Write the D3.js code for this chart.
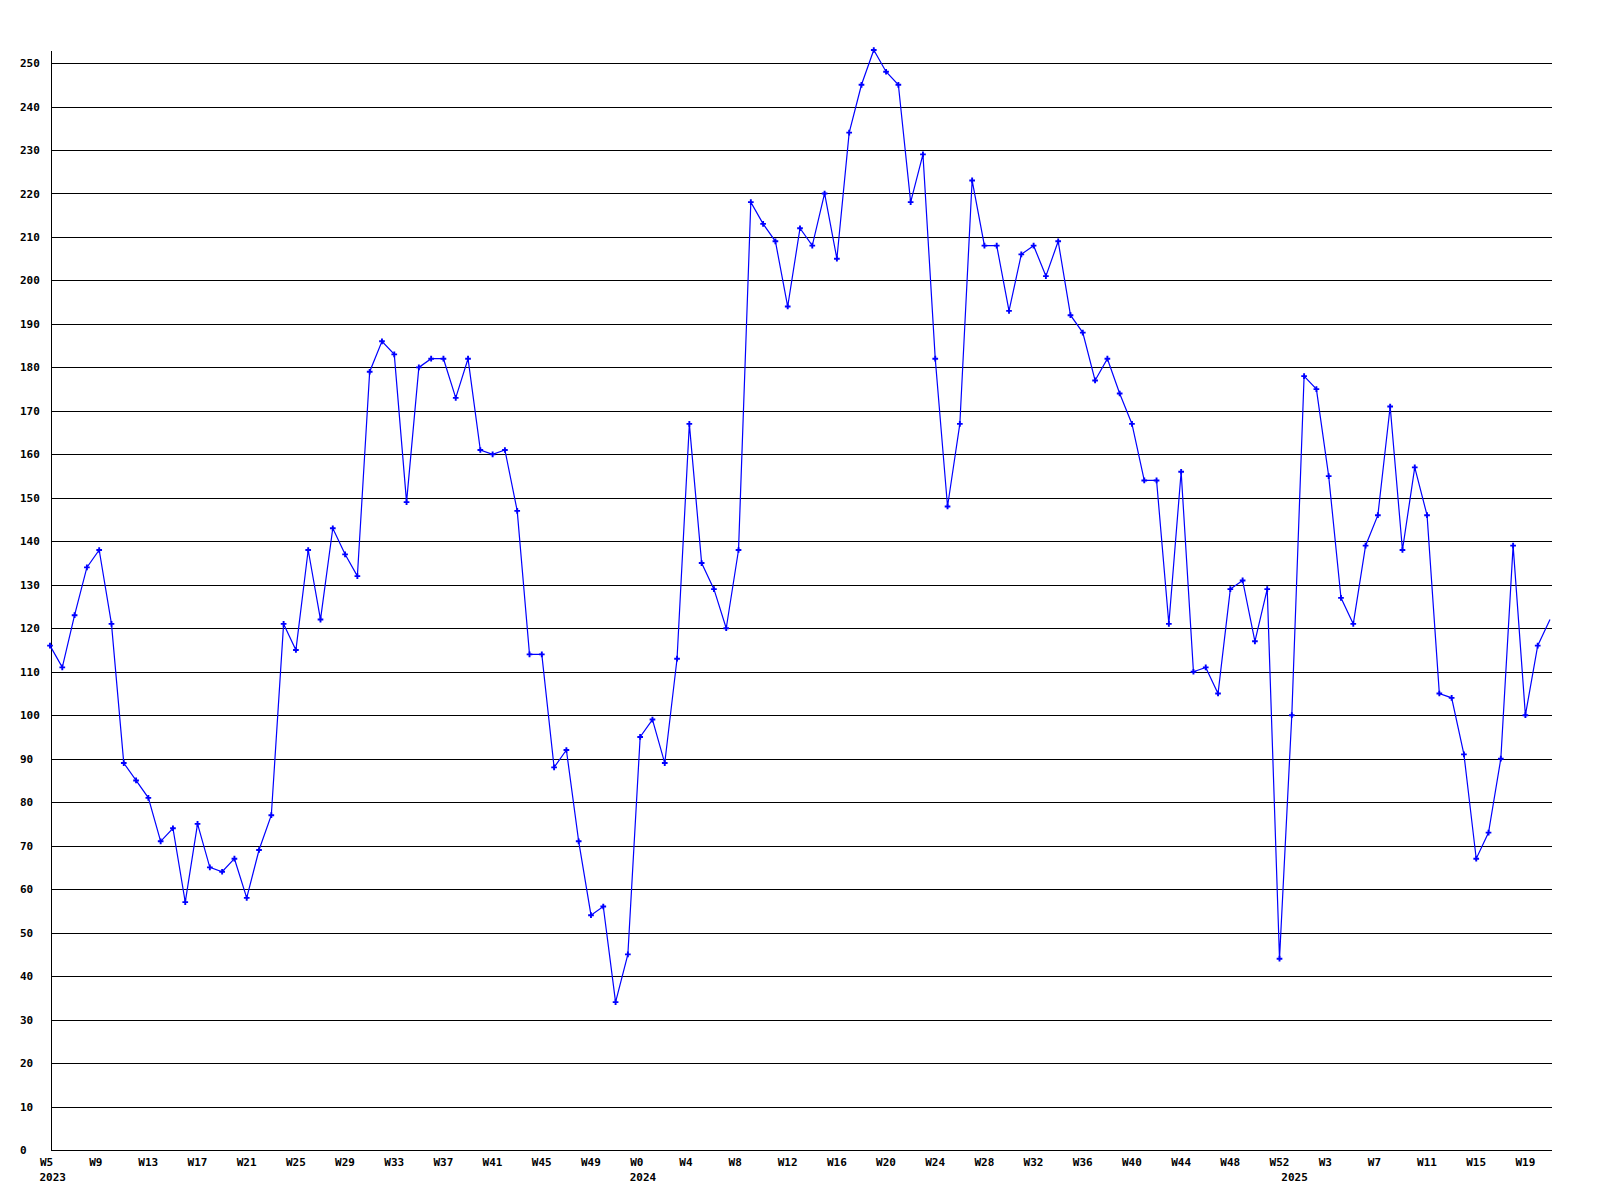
<!DOCTYPE html>
<html>
<head>
<meta charset="utf-8">
<script src="https://cdn.jsdelivr.net/npm/d3@7"></script>
<style>
  html, body { margin: 0; padding: 0; background: #fff; }
  svg { display: block; }
  text { font-family: "DejaVu Sans Mono", monospace; font-weight: bold; font-size: 11px; fill: #000; }
</style>
</head>
<body>
<svg id="chart" width="1600" height="1200"></svg>
<script>
// Weekly values, one array per year
const years = ["2023", "2024", "2025"];
const firstWeek = [5, 0, 0];
const values2023 = [116,111,123,134,138,121,89,85,81,71,74,57,75,65,64,67,58,69,77,121,115,138,122,143,137,132,179,186,183,149,180,182,182,173,182,161,160,161,147,114,114,88,92,71,54,56,34,45];
const values2024 = [95,99,89,113,167,135,129,120,138,218,213,209,194,212,208,220,205,234,245,253,248,245,218,229,182,148,167,223,208,208,193,206,208,201,209,192,188,177,182,174,167,154,154,121,156,110,111,105,129,131,117,129,44];
const values2025 = [100,178,175,155,127,121,139,146,171,138,157,146,105,104,91,67,73,90,139,100,116,122];
const yTicks = [0,10,20,30,40,50,60,70,80,90,100,110,120,130,140,150,160,170,180,190,200,210,220,230,240,250];
const labelEvery = 4;

(function () {
  // Build flat point list
  const series = [values2023, values2024, values2025];
  const points = [];
  series.forEach((vals, yi) => {
    vals.forEach((v, i) => {
      points.push({ i: points.length, year: years[yi], week: firstWeek[yi] + i, first: i === 0, value: v });
    });
  });

  const mLeft = 50, mRight = 1550, mTop = 50, mBottom = 1150;
  const svg = d3.select("#chart");
  svg.append("rect").attr("width", 1600).attr("height", 1200).attr("fill", "#fff");

  const x = d3.scaleLinear().domain([0, points.length - 1]).range([mLeft, mRight]);
  const y = d3.scaleLinear().domain([0, d3.max(points, d => d.value)]).range([mBottom, mTop]);

  // Y axis with gridlines
  const yAxis = d3.axisLeft(y).tickValues(yTicks).tickFormat(d3.format("d"))
    .tickSize(-(mRight + 1 - mLeft)).tickSizeOuter(0);
  const gy = svg.append("g").attr("transform", `translate(${mLeft + 0.5},0)`).call(yAxis);
  gy.select(".domain").attr("stroke", "#000").attr("shape-rendering", "crispEdges");
  gy.selectAll(".tick line").attr("stroke", "#000").attr("shape-rendering", "crispEdges");
  gy.selectAll(".tick text").attr("text-anchor", "start").attr("x", 20 - mLeft - 0.5)
    .attr("dy", "0.32em").attr("fill", "#000")
    .style("font-family", "DejaVu Sans Mono").style("font-weight", "bold").style("font-size", "11px");

  // X axis labels (every 4th week) plus year labels
  const tickIdx = points.filter(p => p.i % labelEvery === 0).map(p => p.i);
  const xAxis = d3.axisBottom(x).tickValues(tickIdx).tickFormat(i => "W" + points[i].week).tickSize(0);
  const gx = svg.append("g").attr("transform", `translate(0,${mBottom})`).call(xAxis);
  gx.select(".domain").remove();
  gx.selectAll(".tick text").attr("text-anchor", "start").attr("x", -10.5).attr("y", 15.5).attr("dy", 0)
    .attr("fill", "#000")
    .style("font-family", "DejaVu Sans Mono").style("font-weight", "bold").style("font-size", "11px");

  svg.append("g").selectAll("text").data(points.filter(p => p.first)).join("text")
    .attr("x", d => x(d.i) - 10.5).attr("y", mBottom + 31)
    .text(d => d.year);

  // Line
  const line = d3.line().x(d => x(d.i)).y(d => y(d.value));
  svg.append("path").datum(points).attr("d", line)
    .attr("fill", "none").attr("stroke", "#0000ff").attr("stroke-width", 1.2);

  // Markers (last, partial week has none)
  const sym = d3.symbol().type(d3.symbolCross).size(18);
  svg.append("g").selectAll("path").data(points.slice(0, -1)).join("path")
    .attr("transform", d => `translate(${x(d.i)},${y(d.value)})`)
    .attr("d", sym).attr("fill", "#0000ff");
})();
</script>
</body>
</html>
